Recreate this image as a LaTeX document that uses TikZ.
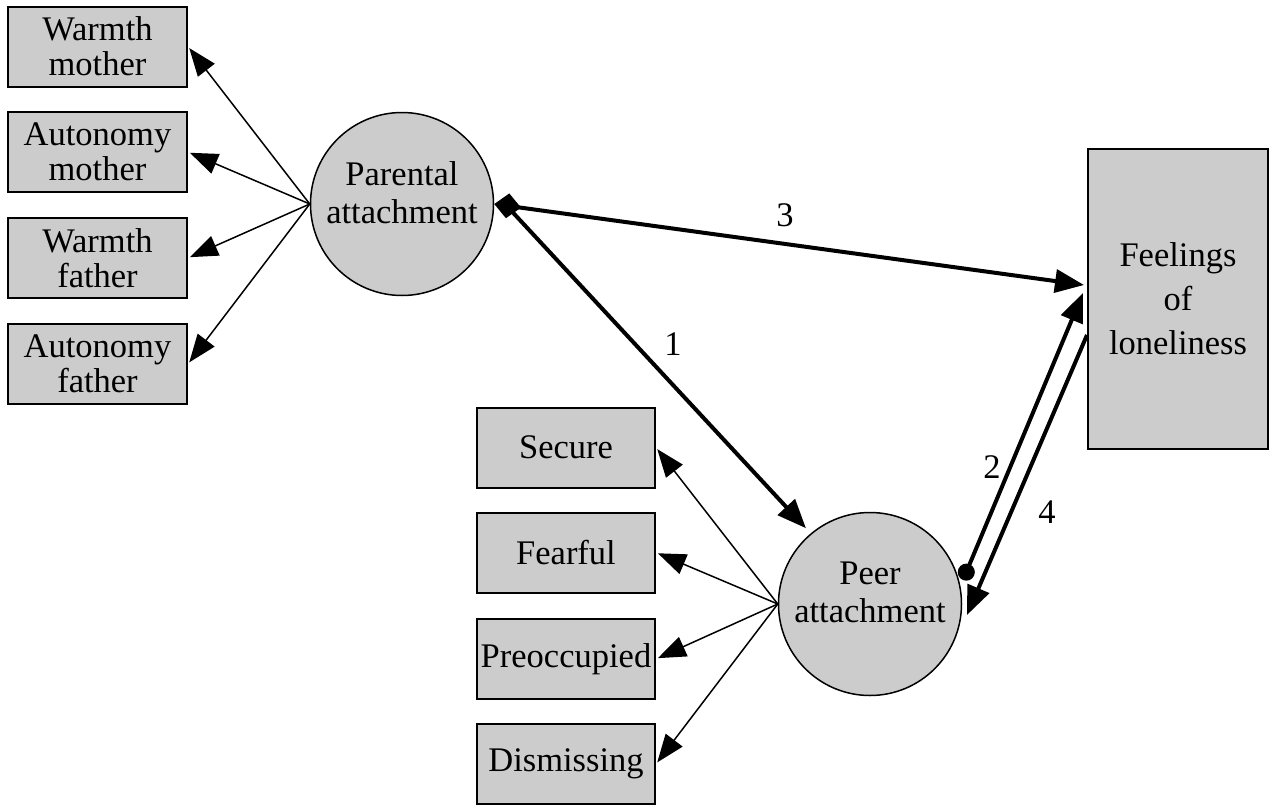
\documentclass[tikz,border=0pt]{standalone}
\usepackage{fontspec}
\setmainfont{Liberation Serif}
\usetikzlibrary{arrows.meta,shapes.geometric}
\definecolor{boxgray}{HTML}{CCCCCC}
\begin{document}
\begin{tikzpicture}[x=1pt,y=-1pt,
  box/.style={draw,line width=2pt,fill=boxgray,minimum width=179pt,minimum height=80pt,inner sep=0pt,
    font=\fontsize{34.5}{35}\selectfont,align=center},
  lat/.style={draw,line width=1.5pt,circle,fill=boxgray,minimum size=183pt,inner sep=0pt,
    font=\fontsize{34.5}{38}\selectfont,align=center,text depth=23pt},
  thinarr/.style={line width=1.5pt,-{Triangle[length=28pt,width=21pt]},shorten >=2pt},
  thickarr/.style={line width=4pt,-{Triangle[length=29pt,width=23pt]}},
  lab/.style={font=\fontsize{34.5}{34}\selectfont,inner sep=0pt}]
\useasboundingbox (0,0) rectangle (1275,811);

% left indicator boxes
\node[box] (wm) at (97.5,46.5) {Warmth\\mother};
\node[box] (am) at (97.5,152) {Autonomy\\mother};
\node[box] (wf) at (97.5,258) {Warmth\\father};
\node[box] (af) at (97.5,364) {Autonomy\\father};

% right indicator boxes
\node[box,minimum width=178pt] (sec) at (566,447.5) {Secure};
\node[box,minimum width=178pt] (fea) at (566,552.5) {Fearful};
\node[box,minimum width=178pt] (pre) at (566,659) {Preoccupied};
\node[box,minimum width=178pt] (dis) at (566,764) {Dismissing};

% outcome box
\node[box,minimum width=180pt,minimum height=300pt,font=\fontsize{34.5}{44}\selectfont] (feel) at (1178,299) {Feelings\\of\\loneliness};

% latent variables
\node[lat] (par) at (402,204) {Parental\\attachment};
\node[lat] (peer) at (870,604) {Peer\\attachment};

% measurement arrows
\draw[thinarr] (par.west) -- (wm.east);
\draw[thinarr] (par.west) -- (am.east);
\draw[thinarr] (par.west) -- (wf.east);
\draw[thinarr] (par.west) -- (af.east);
\draw[thinarr] (peer.west) -- (sec.east);
\draw[thinarr] (peer.west) -- (fea.east);
\draw[thinarr] (peer.west) -- (pre.east);
\draw[thinarr] (peer.west) -- (dis.east);

% structural paths
\coordinate (dia) at (505,204);
\coordinate (d2) at (963,580);
\coordinate (t4) at (967,615);
\draw[thickarr,{Diamond[length=27pt,width=25pt]}-{Triangle[length=29pt,width=23pt]}] (par.east) -- ([yshift=14pt,xshift=-3pt]feel.west);
\draw[thickarr,shorten >=7pt] (dia) -- (peer.130);
\draw[thickarr,{Circle[length=17pt]}-{Triangle[length=29pt,width=23pt]}] (d2) -- ([yshift=6pt,xshift=-4pt]feel.west);
\draw[thickarr] ([yshift=-36pt]feel.west) -- (t4);

% path labels
\node[lab] (l3) at (785,215) {3};
\node[lab] (l1) at (673,344) {1};
\node[lab] (l2) at (992,467) {2};
\node[lab] (l4) at (1047,512) {4};
\end{tikzpicture}
\end{document}
